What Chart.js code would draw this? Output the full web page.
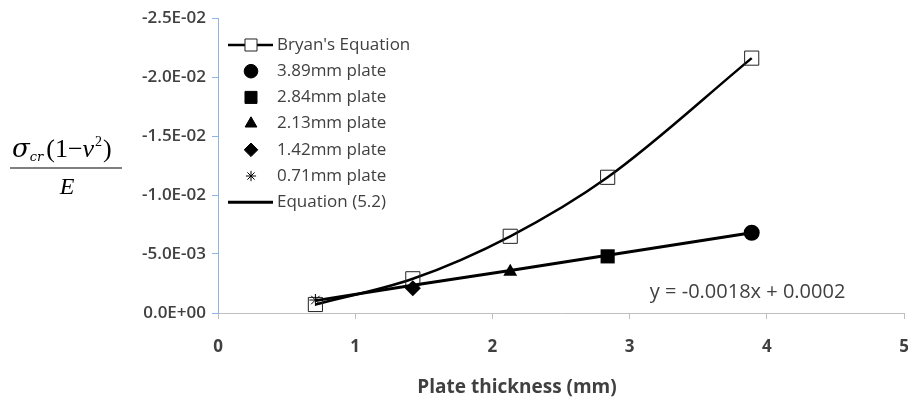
<!DOCTYPE html>
<html>
<head>
<meta charset="utf-8">
<script src="https://cdn.jsdelivr.net/npm/chart.js@4.4.1/dist/chart.umd.min.js"></script>
<style>
  html, body { margin: 0; padding: 0; background: #fff; }
  #wrap { width: 908px; height: 404px; }
</style>
</head>
<body>
<div id="wrap"><canvas id="plate-chart" width="908" height="404"></canvas></div>
<script>
// plate thickness (mm)
const thickness = [0.71, 1.42, 2.13, 2.84, 3.89];
// Bryan's equation
const bryanValues = [-0.00072, -0.0029, -0.0065, -0.0115, -0.0216];
// test points, one per plate
const plateLabels = ["3.89mm plate", "2.84mm plate", "2.13mm plate", "1.42mm plate", "0.71mm plate"];
const plateThickness = [3.89, 2.84, 2.13, 1.42, 0.71];
const plateValues = [-0.0068, -0.0048, -0.0035, -0.0021, -0.0011];
const plateMarkers = ["circle", "rect", "triangle", "rectRot", "star"];
const plateSizes = [8, 10, 8, 8, 6];
// Equation (5.2)
const equationValues = [-0.00105, -0.00235, -0.0036, -0.0049, -0.0068];
const trendText = "y = -0.0018x + 0.0002";
const xTitle = "Plate thickness (mm)";

const textGrey = "#404040";

// 0.005 -> "5.0E-03"
const sci = (v) => {
  const [m, e] = Number(v).toExponential(1).split("e");
  return m + "E" + e[0] + e.slice(1).padStart(2, "0");
};

const datasets = [
  {
    label: "Bryan's Equation",
    data: thickness.map((t, i) => ({ x: t, y: bryanValues[i] })),
    borderColor: "#000",
    borderWidth: 2.5,
    cubicInterpolationMode: "monotone",
    pointStyle: "rect",
    pointRadius: 10,
    pointBorderWidth: 1,
    pointBorderColor: "#222",
    pointBackgroundColor: "rgba(255,255,255,0)",
    showLine: true,
    order: 3
  },
  ...plateLabels.map((label, i) => ({
    label: label,
    data: [{ x: plateThickness[i], y: plateValues[i] }],
    showLine: false,
    pointStyle: plateMarkers[i],
    pointRadius: plateSizes[i],
    pointBorderWidth: plateMarkers[i] === "star" ? 1 : 0,
    pointBorderColor: "#000",
    pointBackgroundColor: "#000",
    order: 1
  })),
  {
    label: "Equation (5.2)",
    data: thickness.map((t, i) => ({ x: t, y: equationValues[i] })),
    borderColor: "#000",
    borderWidth: 3,
    pointRadius: 0,
    showLine: true,
    order: 2
  }
];

// legend drawn inside the plot, upper left
const insideLegend = {
  id: "insideLegend",
  afterDraw(chart) {
    const ctx = chart.ctx;
    const left = chart.chartArea.left + 10;
    const top = chart.chartArea.top + 27;
    const rowH = 26.2;
    ctx.save();
    ctx.font = "17px 'Open Sans', sans-serif";
    ctx.textBaseline = "middle";
    chart.data.datasets.forEach((ds, i) => {
      const y = top + i * rowH;
      const cx = left + 23;
      if (ds.showLine) {
        ctx.strokeStyle = ds.borderColor;
        ctx.lineWidth = ds.borderWidth;
        ctx.beginPath();
        ctx.moveTo(left, y);
        ctx.lineTo(left + 45, y);
        ctx.stroke();
      }
      if (ds.pointRadius > 0) {
        const hollow = ds.pointBackgroundColor !== "#000";
        ctx.fillStyle = hollow ? "#fff" : "#000";
        ctx.strokeStyle = ds.pointBorderColor;
        ctx.lineWidth = hollow ? 1 : ds.pointBorderWidth;
        Chart.helpers.drawPoint(ctx, {
          pointStyle: ds.pointStyle,
          radius: ds.pointRadius * 0.85,
          borderWidth: ctx.lineWidth,
          rotation: 0
        }, cx, y);
      }
      ctx.fillStyle = textGrey;
      ctx.fillText(ds.label, left + 49, y);
    });
    ctx.restore();
  }
};

// trend-line label, the y-axis formula and the x title
const extraText = {
  id: "extraText",
  afterDraw(chart) {
    const ctx = chart.ctx;
    const xs = chart.scales.x, ys = chart.scales.y;
    ctx.save();
    ctx.fillStyle = textGrey;
    ctx.font = "20px 'Open Sans', sans-serif";
    ctx.textAlign = "center";
    ctx.textBaseline = "middle";
    ctx.fillText(trendText, xs.getPixelForValue(3.86), ys.getPixelForValue(-0.00178));

    ctx.font = "bold 19px 'Open Sans', sans-serif";
    ctx.fillText(xTitle, 517, 388);

    // sigma_cr (1 - nu^2) / E
    ctx.fillStyle = "#000";
    ctx.textAlign = "left";
    ctx.textBaseline = "alphabetic";
    let x = 12;
    const base = 157;
    const part = (txt, font, dy) => {
      ctx.font = font;
      ctx.fillText(txt, x, base + (dy || 0));
      x += ctx.measureText(txt).width;
    };
    part("\u03C3", "italic 26px 'DejaVu Serif', serif");
    part("cr", "italic 13px 'DejaVu Serif', serif", 4);
    x += 3;
    part("(1\u2212", "26px 'Liberation Serif', serif");
    part("\u03BD", "italic 26px 'Liberation Serif', serif");
    x += 1;
    part("2", "14px 'Liberation Serif', serif", -11);
    x += 1;
    part(")", "26px 'Liberation Serif', serif");
    ctx.strokeStyle = "#000";
    ctx.lineWidth = 1.2;
    ctx.beginPath();
    ctx.moveTo(10, 168);
    ctx.lineTo(122, 168);
    ctx.stroke();
    ctx.font = "italic 24px 'Liberation Serif', serif";
    ctx.textAlign = "center";
    ctx.fillText("E", 67, 194);
    ctx.restore();
  }
};

new Chart(document.getElementById("plate-chart"), {
  type: "line",
  data: { datasets: datasets },
  options: {
    responsive: false,
    animation: false,
    devicePixelRatio: 1,
    layout: { autoPadding: false, padding: { top: 18, right: 0, left: 0, bottom: 0 } },
    plugins: {
      legend: { display: false },
      tooltip: { enabled: false }
    },
    scales: {
      x: {
        type: "linear",
        min: 0,
        max: 5,
        ticks: {
          stepSize: 1,
          color: textGrey,
          font: { family: "'Open Sans', sans-serif", size: 17, weight: "bold" },
          padding: 18
        },
        grid: { drawOnChartArea: false, drawTicks: true, tickLength: 6, color: "#BFBFBF" },
        border: { color: "#BFBFBF", width: 1 },
        afterFit(scale) {
          scale.height = 91;
          scale.paddingRight = 4;
        }
      },
      y: {
        type: "linear",
        min: -0.025,
        max: 0,
        reverse: true,
        ticks: {
          stepSize: 0.005,
          color: textGrey,
          font: { family: "'Open Sans', sans-serif", size: 17, weight: "600" },
          padding: 6,
          callback: (v) => sci(v)
        },
        grid: { drawOnChartArea: false, drawTicks: true, tickLength: 6, color: "#8EB4E3" },
        border: { color: "#8EB4E3", width: 1 },
        afterFit(scale) {
          scale.width = 218;
          scale.paddingTop = 0;
        }
      }
    }
  },
  plugins: [insideLegend, extraText]
});
</script>
</body>
</html>
